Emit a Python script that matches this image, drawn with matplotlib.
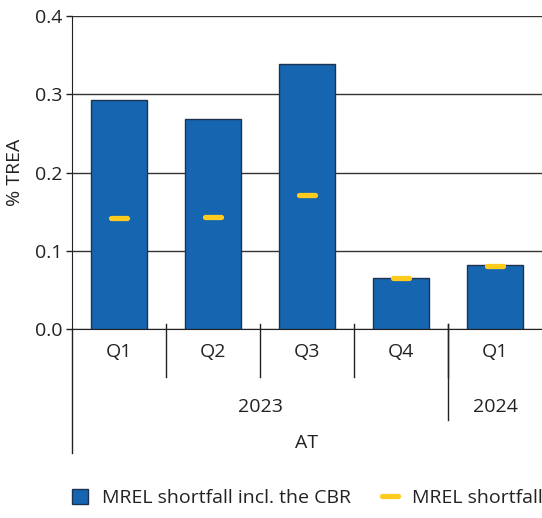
import matplotlib
matplotlib.use("Agg")
import matplotlib.pyplot as plt
from matplotlib.patches import Patch
from matplotlib.lines import Line2D
import numpy as np

quarters = ["Q1", "Q2", "Q3", "Q4", "Q1"]
years = ["2023", "2024"]
year_counts = [4, 1]
country = "AT"
shortfall_cbr = [0.293, 0.269, 0.339, 0.066, 0.082]
shortfall = [0.142, 0.143, 0.171, 0.065, 0.081]
yticks = [0.0, 0.1, 0.2, 0.3, 0.4]

plt.rcParams['font.family'] = ['Open Sans', 'DejaVu Sans']
FS = 14
BLUE = '#1565B0'
EDGE = '#1F3350'
YEL = '#FFCB1F'
TXT = '#222222'

W, H = 542, 518
fig = plt.figure(figsize=(W / 100, H / 100), dpi=100)
ax = fig.add_axes([72 / W, (H - 329.3) / H, 1 - 72 / W, (329.3 - 16) / H])

x = np.arange(len(quarters))
ax.bar(x, shortfall_cbr, width=0.6, color=BLUE, edgecolor=EDGE, linewidth=1.0, zorder=3)
ax.hlines(shortfall, x - 0.09, x + 0.09, colors=YEL, linewidth=3.8, capstyle='round', zorder=4)

ax.set_xlim(-0.5, len(quarters) - 0.5)
ax.set_ylim(0, 0.4)
ax.set_yticks(yticks)
ax.set_yticklabels([f"{v:.1f}" for v in yticks], fontsize=FS, color=TXT)
ax.yaxis.grid(True, color='#333333', linewidth=1.0, zorder=0)
ax.set_axisbelow(True)
ax.tick_params(axis='y', length=4, width=1, color=TXT, pad=3)
ax.set_xticks([])
for s in ['top', 'right']:
    ax.spines[s].set_visible(False)
ax.spines['left'].set_color(TXT)
ax.spines['bottom'].set_color(TXT)
ax.set_ylabel("% TREA", fontsize=FS, color=TXT, labelpad=8)

# hierarchical category axis
tr = ax.get_xaxis_transform()
ax_h = 329.3 - 16
def ay(py):
    return -(py - 329.3) / ax_h

for i, q in enumerate(quarters):
    ax.text(i, ay(352), q, transform=tr, ha='center', va='center', fontsize=FS, color=TXT)
for b in x[:-1] + 0.5:
    ax.plot([b, b], [ay(324), ay(377)], transform=tr, color=TXT, lw=1, clip_on=False)
start = 0
for yname, c in zip(years, year_counts):
    ax.text(start + c / 2 - 0.5, ay(407), yname, transform=tr, ha='center', va='center', fontsize=FS, color=TXT)
    start += c
    if start < len(quarters):
        ax.plot([start - 0.5] * 2, [ay(324), ay(420)], transform=tr, color=TXT, lw=1, clip_on=False)
ax.plot([-0.5, -0.5], [ay(329), ay(453)], transform=tr, color=TXT, lw=1, clip_on=False)
ax.text(len(quarters) / 2 - 0.5, ay(443), country, transform=tr, ha='center', va='center', fontsize=FS, color=TXT)

handles = [Patch(facecolor=BLUE, edgecolor=EDGE, linewidth=1.0),
           Line2D([0], [0], color=YEL, lw=3.8, solid_capstyle='round')]
labels = ["MREL shortfall incl. the CBR", "MREL shortfall"]
fig.legend(handles, labels, loc='center left', bbox_to_anchor=(72 / W, (H - 498) / H),
           ncol=2, frameon=False, fontsize=FS, handlelength=0.82, handleheight=0.82,
           columnspacing=1.6, handletextpad=0.72, borderpad=0, borderaxespad=0,
           labelcolor=TXT)

fig.savefig("out.png", dpi=100)
